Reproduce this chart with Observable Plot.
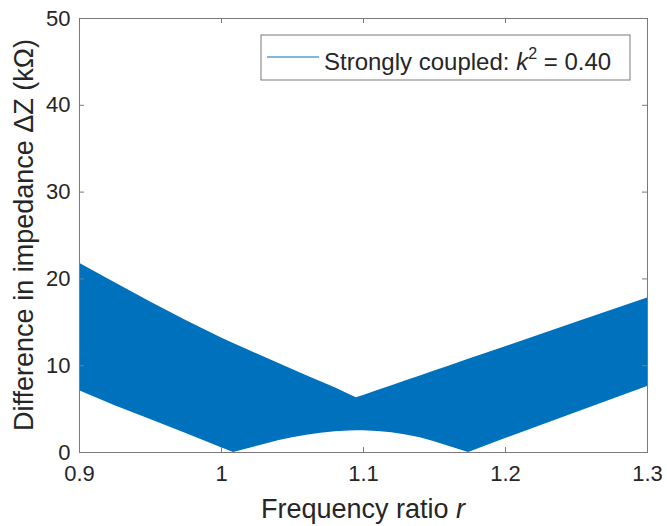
<!DOCTYPE html>
<html>
<head>
<meta charset="utf-8">
<script src="https://cdn.jsdelivr.net/npm/d3@7"></script>
<script src="https://cdn.jsdelivr.net/npm/@observablehq/plot@0.6"></script>
<style>
  html, body { margin: 0; padding: 0; background: #fff; }
</style>
</head>
<body>
<div id="chart"></div>
<script>
// Frequency ratio r (sample positions)
const ratio = [0.9, 0.925, 0.95, 0.975, 1.0, 1.0085, 1.02, 1.03, 1.04, 1.05, 1.06, 1.07, 1.08, 1.09, 1.095,
               1.1, 1.11, 1.12, 1.13, 1.14, 1.15, 1.16, 1.174, 1.2, 1.25, 1.3];
// Upper envelope of ΔZ (kΩ)
const upperZ = [21.8, 19.55, 17.35, 15.2, 13.2, 12.57, 11.72, 10.99, 10.27, 9.55, 8.85, 8.15, 7.46, 6.68, 6.3,
                6.58, 7.14, 7.7, 8.26, 8.82, 9.39, 9.95, 10.73, 12.19, 15.0, 17.8];
// Lower envelope of ΔZ (kΩ)
const lowerZ = [7.1, 5.4, 3.8, 2.2, 0.55, 0, 0.5, 0.92, 1.35, 1.7, 2.0, 2.22, 2.38, 2.48, 2.5,
                2.5, 2.43, 2.27, 2.02, 1.7, 1.25, 0.72, 0, 1.6, 4.6, 7.6];

const xTicks = [0.9, 1.0, 1.1, 1.2, 1.3];
const xTickLabels = ["0.9", "1", "1.1", "1.2", "1.3"];
const yTicks = [0, 10, 20, 30, 40, 50];
const yTickLabels = ["0", "10", "20", "30", "40", "50"];

const seriesName = "Strongly coupled";
const xLabel = "Frequency ratio ";
const xLabelVar = "r";
const yLabel = "Difference in impedance ΔZ (kΩ)";

const data = ratio.map((r, i) => ({r, hi: upperZ[i], lo: lowerZ[i]}));

const W = 667, H = 526;
const mL = 79, mR = 20, mT = 18, mB = 74;
const plotH = H - mT - mB;
const plotW = W - mL - mR;
const tickLen = 5;
const blue = "#0072BD";
const axisGray = "#7a7a7a";
const textCol = "#262626";

const plot = Plot.plot({
  width: W,
  height: H,
  marginLeft: mL,
  marginRight: mR,
  marginTop: mT,
  marginBottom: mB,
  style: {fontFamily: "'Liberation Sans', Arial, Helvetica, sans-serif", color: textCol, background: "#fff"},
  x: {domain: [0.9, 1.3]},
  y: {domain: [0, 50]},
  marks: [
    Plot.areaY(data, {x: "r", y1: "lo", y2: "hi", fill: blue, curve: "linear"}),
    Plot.frame({stroke: axisGray, strokeWidth: 1}),
    // inward ticks: bottom and top
    Plot.ruleX(xTicks, {x: d => d, insetTop: plotH - tickLen, stroke: axisGray}),
    Plot.ruleX(xTicks, {x: d => d, insetBottom: plotH - tickLen, stroke: axisGray}),
    // inward ticks: left and right
    Plot.ruleY(yTicks, {y: d => d, insetRight: plotW - tickLen, stroke: axisGray}),
    Plot.ruleY(yTicks, {y: d => d, insetLeft: plotW - tickLen, stroke: axisGray}),
    Plot.axisX(xTicks, {tickSize: 0, tickPadding: 13, fontSize: 22, label: null,
      tickFormat: d => xTickLabels[xTicks.indexOf(d)]}),
    Plot.axisY(yTicks, {tickSize: 0, tickPadding: 9, fontSize: 22, label: null,
      tickFormat: d => yTickLabels[yTicks.indexOf(d)]})
  ]
});

document.getElementById("chart").appendChild(plot);

const svg = d3.select(plot);
const font = "'Liberation Sans', Arial, Helvetica, sans-serif";

// X label
const xl = svg.append("text")
  .attr("x", mL + plotW / 2)
  .attr("y", 518)
  .attr("text-anchor", "middle")
  .attr("font-family", font)
  .attr("font-size", 27)
  .attr("fill", textCol);
xl.append("tspan").text(xLabel);
xl.append("tspan").attr("font-style", "italic").text(xLabelVar);

// Y label
svg.append("text")
  .attr("transform", `translate(33,${mT + plotH / 2}) rotate(-90)`)
  .attr("text-anchor", "middle")
  .attr("font-family", font)
  .attr("font-size", 27)
  .attr("fill", textCol)
  .text(yLabel);

// Legend
const lg = svg.append("g");
lg.append("rect")
  .attr("x", 261).attr("y", 35).attr("width", 369).attr("height", 45)
  .attr("fill", "#fff").attr("stroke", axisGray).attr("stroke-width", 1);
lg.append("line")
  .attr("x1", 267).attr("x2", 319).attr("y1", 57).attr("y2", 57)
  .attr("stroke", blue).attr("stroke-width", 1.2);
const lt = lg.append("text")
  .attr("x", 324).attr("y", 70)
  .attr("text-anchor", "start")
  .attr("font-family", font).attr("font-size", 24).attr("fill", textCol);
lt.append("tspan").text(seriesName + ": ");
lt.append("tspan").attr("font-style", "italic").text("k");
lt.append("tspan").attr("font-size", 16).attr("dy", -11).text("2");
lt.append("tspan").attr("dy", 11).text(" = 0.40");
</script>
</body>
</html>
